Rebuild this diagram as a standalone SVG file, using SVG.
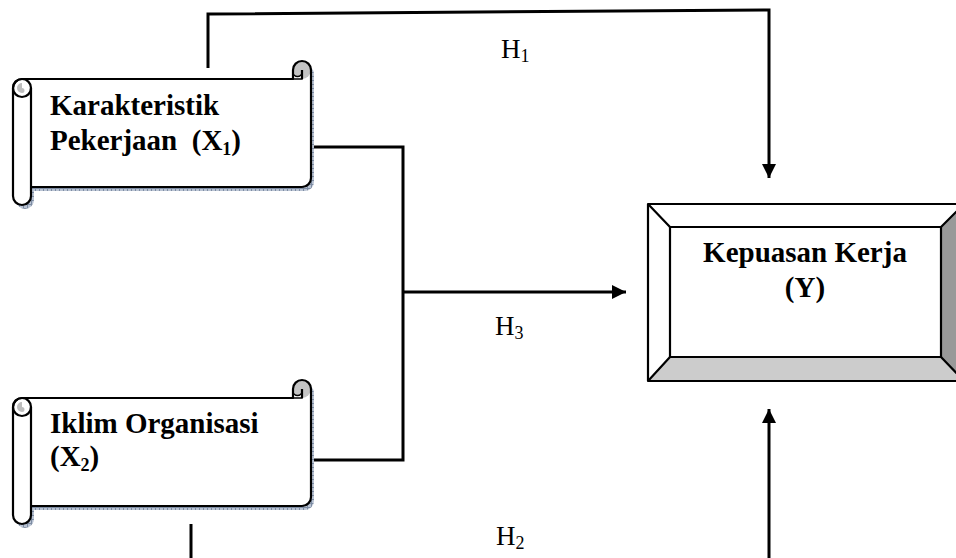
<svg xmlns="http://www.w3.org/2000/svg" xmlns:xlink="http://www.w3.org/1999/xlink" width="956" height="558" viewBox="0 0 956 558">
<style>
.lbl{font-family:"Liberation Serif","Times New Roman",serif;font-weight:bold;font-size:29px;fill:#000}
.h{font-family:"Liberation Serif","Times New Roman",serif;font-size:27px;fill:#000}
.sub{font-size:18px}
.ol{fill:none;stroke:#000;stroke-width:2.2;stroke-linejoin:round}
.conn{fill:none;stroke:#000;stroke-width:3}
</style>
<defs>
<pattern id="grid" width="4" height="4" patternUnits="userSpaceOnUse">
<rect width="4" height="4" fill="#b9c3d3"/>
<path d="M0,0.5H4M0.5,0V4" stroke="#7d8ca3" stroke-width="1"/>
</pattern>
<path id="sil" d="M311,70 A9,9 0 0 0 293,70 L293,79 L22,79 A9,9 0 0 0 13,88 L13,196 A9,9 0 0 0 31,196 L31,187 L302,187 A9,9 0 0 0 311,178 Z"/>
<g id="scroll">
<use xlink:href="#sil" transform="translate(3,4)" fill="url(#grid)"/>
<use xlink:href="#sil" fill="#fff"/>
<circle cx="302" cy="70" r="9" fill="#c4c4c4"/>
<path d="M293,79 L293,72 A4.5,4.5 0 0 0 302,72 L302,79 Z" fill="#fff" stroke="#000" stroke-width="1.5"/>
<path d="M22,83 A5,5 0 0 0 22,93 A2.5,2.5 0 0 0 22,88 Z" fill="#bdbdbd"/>
<use xlink:href="#sil" class="ol"/>
<circle cx="22" cy="88" r="9" class="ol"/>
<path d="M31,88 L31,187" class="ol"/>
<path d="M302,79 L302,70" class="ol"/>
</g>
<marker id="ah" markerWidth="14" markerHeight="14" refX="14" refY="7" orient="auto" markerUnits="userSpaceOnUse">
<path d="M0,0 L14,7 L0,14 Z" fill="#000"/>
</marker>
</defs>

<g id="connectors">
<path class="conn" d="M208,68 L208,14 L769,10 L769,178" marker-end="url(#ah)"/>
<path class="conn" d="M312,147 L403,147 L403,460 L312,460"/>
<path class="conn" d="M403,292 L626,292" marker-end="url(#ah)"/>
<path class="conn" d="M191,524 L191,558"/>
<path class="conn" d="M769,558 L769,409" marker-end="url(#ah)"/>
</g>

<g id="labels">
<text class="h" x="501" y="58">H<tspan class="sub" dy="4">1</tspan></text>
<text class="h" x="495" y="335">H<tspan class="sub" dy="4">3</tspan></text>
<text class="h" x="496" y="545">H<tspan class="sub" dy="4">2</tspan></text>
</g>

<g id="node-x1">
<use xlink:href="#scroll"/>
<text class="lbl" x="50" y="115">Karakteristik</text>
<text class="lbl" x="50" y="150" xml:space="preserve">Pekerjaan  (X<tspan class="sub" dy="5">1</tspan><tspan dy="-5">)</tspan></text>
</g>

<g id="node-x2">
<use xlink:href="#scroll" transform="translate(0,319)"/>
<text class="lbl" x="50" y="433">Iklim Organisasi</text>
<text class="lbl" x="50" y="466">(X<tspan class="sub" dy="5">2</tspan><tspan dy="-5">)</tspan></text>
</g>

<g id="node-y">
<rect x="648" y="204" width="316" height="177" fill="#fff"/>
<path d="M941,227 L964,204 L964,381 L941,357 Z" fill="#999"/>
<path d="M670,357 L941,357 L964,381 L648,381 Z" fill="#ccc"/>
<rect x="648" y="204" width="316" height="177" class="ol"/>
<rect x="670" y="227" width="271" height="130" class="ol" fill="#fff"/>
<path d="M648,204 L670,227 M964,204 L941,227 M648,381 L670,357 M964,381 L941,357" class="ol"/>
<text class="lbl" x="805" y="262" text-anchor="middle">Kepuasan Kerja</text>
<text class="lbl" x="805" y="297" text-anchor="middle">(Y)</text>
</g>
</svg>
